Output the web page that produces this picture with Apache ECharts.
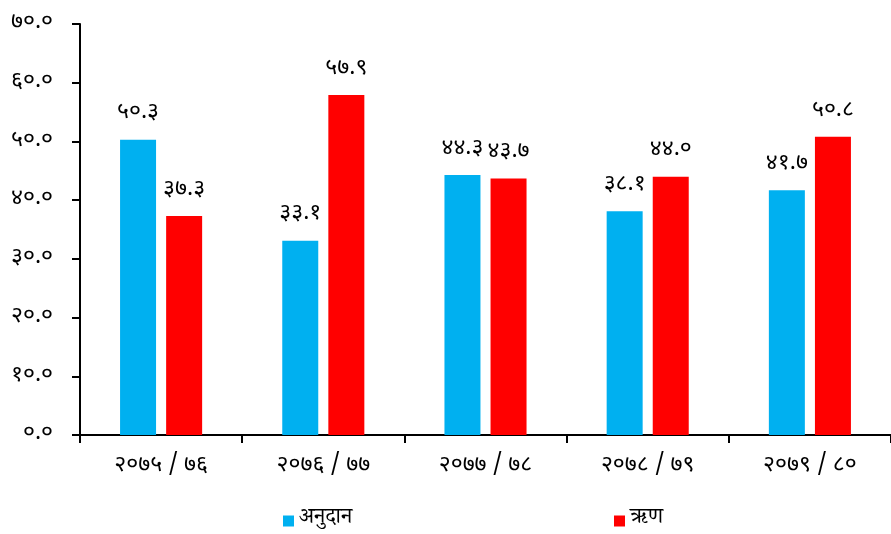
<!DOCTYPE html>
<html>
<head>
<meta charset="utf-8">
<script src="https://cdn.jsdelivr.net/npm/echarts@6/dist/echarts.min.js"></script>
<style>
html,body{margin:0;padding:0;background:#fff;}
#chart{width:891px;height:534px;}
</style>
</head>
<body>
<div id="chart"></div>
<script>
const categories = ['२०७५/७६', '२०७६/७७', '२०७७/७८', '२०७८/७९', '२०७९/८०'];
const grantName = 'अनुदान';
const loanName = 'ऋण';
const grantValues = [50.3, 33.1, 44.3, 38.1, 41.7];
const loanValues = [37.3, 57.9, 43.7, 44.0, 50.8];

const devDigits = ['०','१','२','३','४','५','६','७','८','९'];
function toDev(s) { return String(s).replace(/[0-9]/g, d => devDigits[+d]); }

const FONT = '"Noto Sans Devanagari", "Lohit Devanagari", "Noto Sans", sans-serif';
const SERIF = '"Noto Serif Devanagari", "Lohit Devanagari", "Noto Sans Devanagari", serif';

const chart = echarts.init(document.getElementById('chart'), null, {renderer: 'canvas'});
chart.setOption({
  animation: false,
  backgroundColor: '#ffffff',
  grid: {left: 80, top: 24, width: 815, height: 411, containLabel: false},
  legend: [
    {data: [grantName], left: 278, top: 505, icon: 'rect', itemWidth: 11, itemHeight: 11, itemGap: 6,
     textStyle: {fontFamily: SERIF, fontSize: 22, color: '#000'}},
    {data: [loanName], left: 609, top: 505, icon: 'rect', itemWidth: 11, itemHeight: 11, itemGap: 6,
     textStyle: {fontFamily: SERIF, fontSize: 22, color: '#000'}}
  ],
  xAxis: {
    type: 'category',
    data: categories,
    axisLine: {lineStyle: {color: '#000', width: 2}},
    axisTick: {show: true, length: 8, lineStyle: {color: '#000', width: 2}},
    axisLabel: {margin: 20, color: '#000', fontSize: 23, fontFamily: FONT,
                formatter: v => v.replace('/', ' / ')},
    splitLine: {show: false}
  },
  yAxis: {
    type: 'value',
    min: 0, max: 70, interval: 10,
    axisLine: {show: true, lineStyle: {color: '#000', width: 2}},
    axisTick: {show: true, length: 8, lineStyle: {color: '#000', width: 2}},
    axisLabel: {margin: 27, color: '#000', fontSize: 23, fontFamily: FONT,
                formatter: v => toDev(v.toFixed(1))},
    splitLine: {show: false}
  },
  series: [
    {name: grantName, type: 'bar', data: grantValues, barWidth: 36, barGap: '28%',
     itemStyle: {color: '#00B0F0'},
     label: {show: true, position: 'top', distance: 14, color: '#000', fontSize: 23, fontFamily: FONT,
             formatter: p => toDev(p.value.toFixed(1))}},
    {name: loanName, type: 'bar', data: loanValues, barWidth: 36, barGap: '28%',
     itemStyle: {color: '#FF0000'},
     label: {show: true, position: 'top', distance: 14, color: '#000', fontSize: 23, fontFamily: FONT,
             formatter: p => toDev(p.value.toFixed(1))}}
  ]
});
</script>
</body>
</html>
